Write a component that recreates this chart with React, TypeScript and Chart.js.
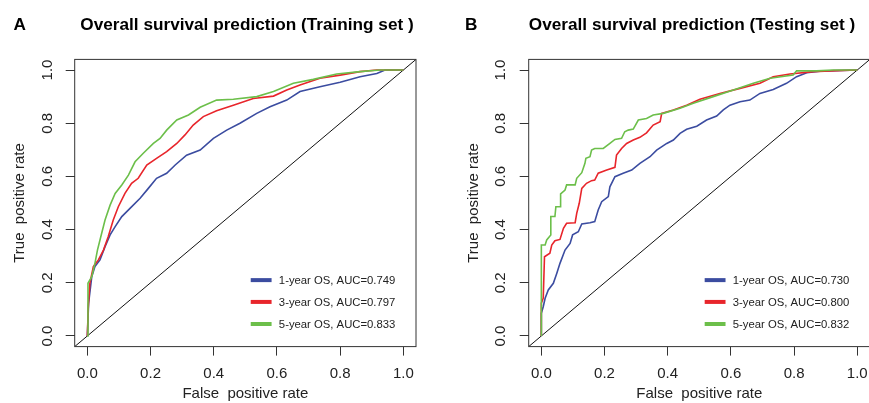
import React, { useEffect, useRef } from "react";
import { Chart, registerables } from "chart.js";

Chart.register(...registerables);

const FONT = "'Liberation Sans', Arial, Helvetica, sans-serif";

// ---- axis / labels ----
const axisTicks = [0, 0.2, 0.4, 0.6, 0.8, 1.0];
const xAxisTitle = "False  positive rate";
const yAxisTitle = "True  positive rate";
const seriesColors = ["#3b4ca0", "#e8252b", "#6cbf4a"];

const trainTitle = "Overall survival prediction (Training set )";
const testTitle = "Overall survival prediction (Testing set )";
const trainLegend = ["1-year OS, AUC=0.749", "3-year OS, AUC=0.797", "5-year OS, AUC=0.833"];
const testLegend = ["1-year OS, AUC=0.730", "3-year OS, AUC=0.800", "5-year OS, AUC=0.832"];

// ---- data: [false positive rate, true positive rate] ----
const train1yr: [number, number][] = [
  [0, 0], [0.004, 0.123], [0.014, 0.223], [0.024, 0.261], [0.04, 0.286], [0.056, 0.336],
  [0.072, 0.38], [0.088, 0.411], [0.109, 0.449], [0.135, 0.48], [0.167, 0.518], [0.193, 0.555],
  [0.219, 0.593], [0.251, 0.612], [0.278, 0.643], [0.314, 0.68], [0.357, 0.699], [0.399, 0.743],
  [0.441, 0.774], [0.483, 0.8], [0.536, 0.837], [0.578, 0.862], [0.631, 0.887], [0.673, 0.919],
  [0.736, 0.937], [0.8, 0.954], [0.863, 0.975], [0.916, 0.987], [0.942, 1], [1, 1],
];
const train3yr: [number, number][] = [
  [0, 0], [0.003, 0.11], [0.008, 0.198], [0.019, 0.261], [0.035, 0.286], [0.051, 0.323],
  [0.066, 0.373], [0.082, 0.436], [0.098, 0.486], [0.119, 0.536], [0.14, 0.574], [0.161, 0.593],
  [0.188, 0.643], [0.219, 0.668], [0.251, 0.693], [0.283, 0.724], [0.309, 0.756], [0.335, 0.793],
  [0.367, 0.825], [0.409, 0.847], [0.462, 0.868], [0.525, 0.893], [0.589, 0.902], [0.631, 0.925],
  [0.673, 0.944], [0.736, 0.969], [0.8, 0.981], [0.863, 0.994], [0.916, 1], [1, 1],
];
const train5yr: [number, number][] = [
  [0, 0], [0.002, 0.198], [0.014, 0.223], [0.024, 0.273], [0.032, 0.323], [0.04, 0.361],
  [0.056, 0.436], [0.072, 0.492], [0.088, 0.536], [0.109, 0.568], [0.13, 0.605], [0.151, 0.655],
  [0.177, 0.687], [0.209, 0.724], [0.23, 0.743], [0.251, 0.774], [0.283, 0.812], [0.32, 0.831],
  [0.357, 0.86], [0.409, 0.887], [0.462, 0.89], [0.536, 0.9], [0.589, 0.919], [0.652, 0.95],
  [0.715, 0.965], [0.789, 0.985], [0.863, 0.994], [0.926, 1], [1, 1],
];

const test1yr: [number, number][] = [
  [0, 0], [0, 0.085], [0.006, 0.11], [0.012, 0.142], [0.022, 0.173], [0.038, 0.198],
  [0.049, 0.236], [0.059, 0.273], [0.075, 0.323], [0.091, 0.348], [0.099, 0.38], [0.117, 0.392],
  [0.128, 0.421], [0.154, 0.426], [0.169, 0.43], [0.18, 0.474], [0.191, 0.505], [0.212, 0.524],
  [0.217, 0.561], [0.233, 0.599], [0.259, 0.612], [0.286, 0.624], [0.312, 0.649], [0.344, 0.674],
  [0.365, 0.699], [0.397, 0.724], [0.418, 0.737], [0.439, 0.762], [0.46, 0.777], [0.492, 0.789],
  [0.523, 0.812], [0.555, 0.827], [0.576, 0.85], [0.597, 0.868], [0.629, 0.881], [0.66, 0.887],
  [0.692, 0.912], [0.734, 0.927], [0.776, 0.95], [0.808, 0.975], [0.84, 0.99], [0.882, 0.996], [1, 1],
];
const test3yr: [number, number][] = [
  [0, 0], [0, 0.123], [0.006, 0.142], [0.01, 0.298], [0.027, 0.311], [0.033, 0.342],
  [0.043, 0.358], [0.059, 0.363], [0.07, 0.405], [0.08, 0.424], [0.107, 0.426], [0.112, 0.461],
  [0.12, 0.499], [0.128, 0.555], [0.143, 0.574], [0.159, 0.584], [0.169, 0.586], [0.18, 0.612],
  [0.207, 0.624], [0.233, 0.634], [0.238, 0.68], [0.254, 0.705], [0.27, 0.724], [0.291, 0.737],
  [0.312, 0.747], [0.333, 0.764], [0.354, 0.793], [0.376, 0.806], [0.381, 0.837], [0.418, 0.85],
  [0.46, 0.868], [0.502, 0.89], [0.565, 0.912], [0.629, 0.931], [0.692, 0.95], [0.734, 0.975],
  [0.787, 0.985], [0.861, 0.994], [0.914, 0.997], [1, 1],
];
const test5yr: [number, number][] = [
  [0, 0], [0, 0.342], [0.012, 0.342], [0.017, 0.361], [0.03, 0.38], [0.03, 0.449],
  [0.043, 0.449], [0.046, 0.486], [0.061, 0.486], [0.061, 0.534], [0.075, 0.549], [0.08, 0.568],
  [0.107, 0.568], [0.112, 0.593], [0.128, 0.614], [0.138, 0.649], [0.141, 0.668], [0.154, 0.674],
  [0.159, 0.699], [0.169, 0.705], [0.196, 0.705], [0.217, 0.724], [0.233, 0.739], [0.254, 0.743],
  [0.264, 0.768], [0.275, 0.774], [0.291, 0.778], [0.307, 0.812], [0.333, 0.818], [0.354, 0.831],
  [0.386, 0.837], [0.439, 0.856], [0.481, 0.875], [0.544, 0.9], [0.608, 0.925], [0.671, 0.95],
  [0.724, 0.969], [0.797, 0.981], [0.808, 0.997], [0.871, 0.997], [0.924, 1], [1, 1],
];

const diagonal: [number, number][] = [[-0.04, -0.04], [1.04, 1.04]];

type PanelProps = {
  letter: string;
  title: string;
  legend: string[];
  series: [number, number][][];
  left: number;
  canvasWidth: number;
  plotLeft: number;
  plotRight: number;
  titleX: number;
  letterX: number;
  yTickPad: number;
  yTitlePad: number;
};

const H = 403;
const PLOT_TOP = 59.4;
const PLOT_BOTTOM = 346.6;

function Panel(p: PanelProps) {
  const ref = useRef<HTMLCanvasElement | null>(null);
  useEffect(() => {
    if (!ref.current) return;
    const toPts = (arr: [number, number][]) => arr.map(([x, y]) => ({ x, y }));
    const curveSets = p.series.map((s, i) => ({
      label: p.legend[i],
      data: toPts(s),
      borderColor: seriesColors[i],
      borderWidth: 1.6,
      showLine: true,
      pointRadius: 0,
      tension: 0,
      order: 3 - i,
    }));
    const diagSet = {
      label: "diag",
      data: toPts(diagonal),
      borderColor: "#111",
      borderWidth: 1,
      showLine: true,
      pointRadius: 0,
      order: 10,
    };
    const deco = {
      id: "deco",
      afterDatasetsDraw(chart: any) {
        const { ctx, chartArea: a, scales } = chart;
        ctx.save();
        ctx.strokeStyle = "#333";
        ctx.lineWidth = 1;
        ctx.strokeRect(a.left, a.top, a.right - a.left, a.bottom - a.top);
        // legend
        const xs = scales.x, ys = scales.y;
        const rows = [0.21, 0.128, 0.045];
        ctx.font = `11.3px ${FONT}`;
        ctx.textBaseline = "middle";
        ctx.textAlign = "left";
        p.legend.forEach((lab, i) => {
          const y = ys.getPixelForValue(rows[i]);
          ctx.strokeStyle = seriesColors[i];
          ctx.lineWidth = 4;
          ctx.beginPath();
          ctx.moveTo(xs.getPixelForValue(0.517), y);
          ctx.lineTo(xs.getPixelForValue(0.583), y);
          ctx.stroke();
          ctx.fillStyle = "#222";
          ctx.fillText(lab, xs.getPixelForValue(0.606), y + 0.5);
        });
        ctx.restore();
      },
      afterDraw(chart: any) {
        const { ctx } = chart;
        ctx.save();
        ctx.fillStyle = "#000";
        ctx.font = `bold 17.2px ${FONT}`;
        ctx.textBaseline = "alphabetic";
        ctx.textAlign = "center";
        ctx.fillText(p.title, p.titleX, 30);
        ctx.fillText(p.letter, p.letterX, 30);
        ctx.restore();
      },
    };
    const tickFont = { family: FONT, size: 15 };
    const chart = new Chart(ref.current, {
      type: "scatter",
      data: { datasets: [...curveSets, diagSet] as any },
      options: {
        animation: false,
        responsive: false,
        maintainAspectRatio: false,
        layout: { padding: { top: PLOT_TOP, left: 0, bottom: 0, right: p.canvasWidth - p.plotRight } },
        plugins: { legend: { display: false }, tooltip: { enabled: false }, title: { display: false } },
        scales: {
          x: {
            type: "linear",
            min: -0.04,
            max: 1.04,
            afterBuildTicks: (s: any) => { s.ticks = axisTicks.map((v) => ({ value: v })); },
            afterFit: (s: any) => { s.height = H - PLOT_BOTTOM; },
            ticks: { font: tickFont, color: "#222", padding: 9, autoSkip: false, maxRotation: 0, callback: (v: any) => Number(v).toFixed(1) },
            grid: { drawOnChartArea: false, drawTicks: true, tickLength: 9, color: "#333", lineWidth: 1 },
            border: { display: false },
            title: { display: true, text: xAxisTitle, font: { family: FONT, size: 15 }, color: "#222", padding: { top: 0, bottom: 0 } },
          },
          y: {
            type: "linear",
            min: -0.04,
            max: 1.04,
            afterBuildTicks: (s: any) => { s.ticks = axisTicks.map((v) => ({ value: v })); },
            afterFit: (s: any) => { s.width = p.plotLeft; },
            ticks: { font: tickFont, color: "#222", padding: p.yTickPad, autoSkip: false, minRotation: 90, maxRotation: 90, crossAlign: "center", callback: (v: any) => Number(v).toFixed(1) },
            grid: { drawOnChartArea: false, drawTicks: true, tickLength: 9, color: "#333", lineWidth: 1 },
            border: { display: false },
            title: { display: true, text: yAxisTitle, font: { family: FONT, size: 15 }, color: "#222", padding: { top: p.yTitlePad, bottom: 0 } },
          },
        },
      } as any,
      plugins: [deco],
    });
    return () => chart.destroy();
  }, []);
  return (
    <canvas
      ref={ref}
      width={p.canvasWidth}
      height={H}
      style={{ position: "absolute", left: p.left, top: 0, width: p.canvasWidth, height: H }}
    />
  );
}

export default function App() {
  return (
    <div style={{ position: "absolute", left: 0, top: 0, width: 869, height: H, overflow: "hidden", background: "#fff" }}>
      <Panel
        letter="A"
        title={trainTitle}
        legend={trainLegend}
        series={[train1yr, train3yr, train5yr]}
        left={0}
        canvasWidth={434}
        plotLeft={74.7}
        plotRight={416}
        titleX={247}
        letterX={19.7}
        yTickPad={7.6}
        yTitlePad={11}
      />
      <Panel
        letter="B"
        title={testTitle}
        legend={testLegend}
        series={[test1yr, test3yr, test5yr]}
        left={434}
        canvasWidth={450}
        plotLeft={94.7}
        plotRight={435.9}
        titleX={258}
        letterX={37.2}
        yTickPad={8.3}
        yTitlePad={31}
      />
    </div>
  );
}
